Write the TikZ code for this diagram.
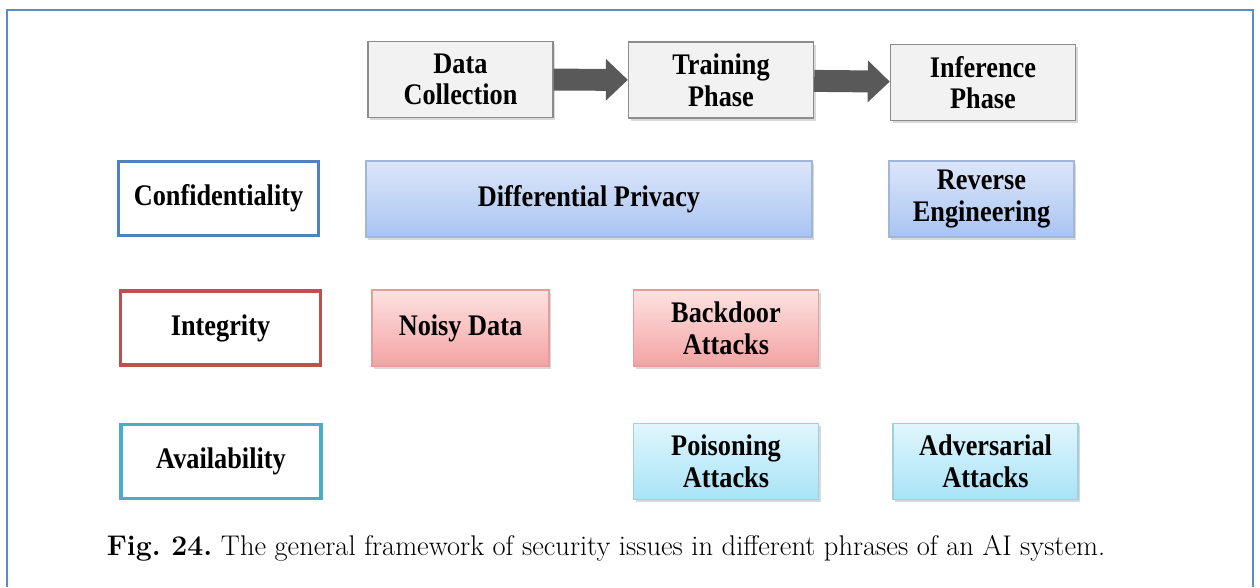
\documentclass[tikz,border=0pt]{standalone}
\usepackage{fontspec}
\newfontfamily\boxfont[FakeStretch=0.88,BoldFont={Liberation Serif Bold}]{Liberation Serif}
\usetikzlibrary{calc,positioning,arrows.meta,shadows}
\definecolor{framebl}{HTML}{5B8BCB}
\definecolor{phasefill}{HTML}{F2F2F2}
\definecolor{phasegr}{HTML}{8C8C8C}
\definecolor{arrowgr}{HTML}{595959}
\definecolor{confbl}{HTML}{4F81BD}
\definecolor{integred}{HTML}{C0504D}
\definecolor{availcy}{HTML}{4BACC6}
\definecolor{bltop}{HTML}{DCE6FA}
\definecolor{blbot}{HTML}{A9C4F2}
\definecolor{redtop}{HTML}{FDE2E1}
\definecolor{redbot}{HTML}{F4A3A3}
\definecolor{cytop}{HTML}{E0F6FD}
\definecolor{cybot}{HTML}{A8E3F6}

\begin{document}
\begin{tikzpicture}[
  every node/.style={font=\boxfont\bfseries\fontsize{17}{18}\selectfont,align=center,inner sep=0pt},
  shade/.style={drop shadow={shadow xshift=1.2pt,shadow yshift=-1.5pt,opacity=0.3,fill=gray}},
  phase/.style={shade,draw=phasegr,fill=phasefill,line width=0.8pt,minimum width=3.7cm,minimum height=1.52cm},
  goal/.style={draw=#1,fill=white,line width=2.2pt,minimum width=4.0cm,minimum height=1.48cm},
  issue/.style n args={3}{shade,top color=#1,bottom color=#2,draw=#3,line width=0.6pt,minimum width=3.7cm,minimum height=1.52cm},
  blueissue/.style={issue={bltop}{blbot}{blbot!80!gray}},
  redissue/.style={issue={redtop}{redbot}{redbot!85!gray}},
  cyanissue/.style={issue={cytop}{cybot}{cybot!80!gray}},
  flow/.style={arrowgr,line width=12.5pt,-{Triangle[length=12.5pt,width=23pt]}}
]
  \useasboundingbox (0,0) rectangle (25.2,-11.74);
  % ramecek, dole oriznuty
  \draw[framebl,line width=1.6pt] (0.14,-11.74) -- (0.14,-0.2) -- (25.06,-0.2) -- (25.06,-11.74);

  \node[phase] (dc) at (9.21,-1.59) {Data\\Collection};
  \node[phase] (tp) at (14.42,-1.60) {Training\\Phase};
  \node[phase] (ip) at (19.66,-1.65) {Inference\\Phase};
  \draw[flow] (dc) -- (tp);
  \draw[flow] (tp) -- (ip);

  \node[goal=confbl]   (conf)  at (4.37,-3.97) {Confidentiality};
  \node[goal=integred] (integ) at (4.41,-6.56) {Integrity};
  \node[goal=availcy]  (avail) at (4.42,-9.23) {Availability};

  \node[blueissue,minimum width=8.92cm] (dp) at (11.78,-3.98) {Differential Privacy};
  \node[blueissue] (re) at (19.63,-3.98) {Reverse\\Engineering};
  \node[redissue,minimum width=3.54cm] (nd) at (9.21,-6.56) {Noisy Data};
  \node[redissue] (ba) at (14.52,-6.56) {Backdoor\\Attacks};
  \node[cyanissue] (pa) at (14.52,-9.23) {Poisoning\\Attacks};
  \node[cyanissue] (aa) at (19.71,-9.23) {Adversarial\\Attacks};

  \node[font=\fontsize{16.2}{18}\selectfont\frenchspacing] (cap) at (12.12,-10.96)
    {\textbf{Fig. 24.} The general framework of security issues in different phrases of an AI system.};
\end{tikzpicture}
\end{document}
